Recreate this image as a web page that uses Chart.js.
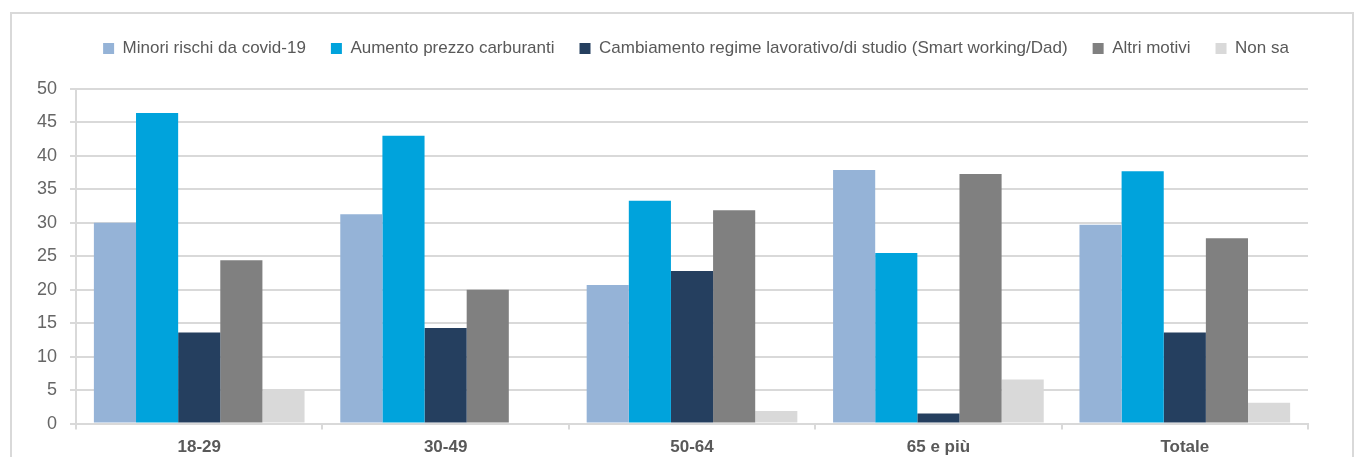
<!DOCTYPE html>
<html>
<head>
<meta charset="utf-8">
<script src="https://cdn.jsdelivr.net/npm/chart.js@4"></script>
<style>
html, body { margin:0; padding:0; background:#fff; overflow:hidden; }
#frame { position:absolute; left:10px; top:12px; width:1344px; height:470px; border:2px solid #D9D9D9; box-sizing:border-box; }
#wrap { position:absolute; left:0; top:0; width:1340px; height:466px; }
</style>
</head>
<body>
<div id="frame"><div id="wrap"><canvas id="c"></canvas></div></div>
<script>
var categories = ['18-29', '30-49', '50-64', '65 e più', 'Totale'];
var seriesNames = ['Minori rischi da covid-19', 'Aumento prezzo carburanti', 'Cambiamento regime lavorativo/di studio (Smart working/Dad)', 'Altri motivi', 'Non sa'];
var minoriRischi = [30.0, 31.3, 20.7, 37.9, 29.7];
var aumentoPrezzo = [46.4, 43.0, 33.3, 25.5, 37.7];
var cambiamentoRegime = [13.6, 14.3, 22.8, 1.5, 13.6];
var altriMotivi = [24.4, 20.0, 31.9, 37.3, 27.7];
var nonSa = [5.0, 0, 1.9, 6.6, 3.1];
var colors = ['#95B3D7', '#00A3DC', '#253F5F', '#808080', '#D9D9D9'];

var font = "'Liberation Sans Narrow', 'Arial Narrow', 'Liberation Sans', sans-serif";
var values = [minoriRischi, aumentoPrezzo, cambiamentoRegime, altriMotivi, nonSa];
var datasets = [];
for (var i = 0; i < values.length; i++) {
	datasets.push({
		label: seriesNames[i],
		data: values[i],
		backgroundColor: colors[i],
		borderWidth: 0,
		categoryPercentage: 0.855,
		barPercentage: 1.0
	});
}

// extra room under the legend, and legend nudged to the right
var legendTweak = {
	id: 'legendTweak',
	beforeInit: function(chart) {
		var fit = chart.legend.fit;
		chart.legend.fit = function() {
			fit.bind(chart.legend)();
			this.height += 22;
		};
	},
	afterUpdate: function(chart) {
		var lg = chart.legend;
		lg.left += 30;
		lg.right += 30;
		lg.adjustHitBoxes();
	}
};

new Chart(document.getElementById('c'), {
	type: 'bar',
	data: { labels: categories, datasets: datasets },
	plugins: [legendTweak],
	options: {
		responsive: true,
		maintainAspectRatio: false,
		animation: false,
		layout: { padding: { top: 1, left: 12, right: 44, bottom: 14 } },
		plugins: {
			legend: {
				position: 'top',
				labels: {
					boxWidth: 11,
					boxHeight: 11,
					padding: 25,
					color: '#595959',
					font: { family: font, size: 17 }
				}
			},
			tooltip: { enabled: false }
		},
		scales: {
			x: {
				grid: { display: true, drawOnChartArea: false, offset: true, color: '#D9D9D9', lineWidth: 2, tickLength: 6 },
				border: { color: '#D9D9D9', width: 2 },
				ticks: { color: '#595959', padding: 8, font: { family: font, size: 17, weight: 'bold' } }
			},
			y: {
				min: 0,
				max: 50,
				ticks: { stepSize: 5, color: '#666666', padding: 13, font: { family: font, size: 18 } },
				grid: { color: '#D9D9D9', lineWidth: 2, tickLength: 6 },
				border: { color: '#D9D9D9', width: 2 }
			}
		}
	}
});
</script>
</body>
</html>
